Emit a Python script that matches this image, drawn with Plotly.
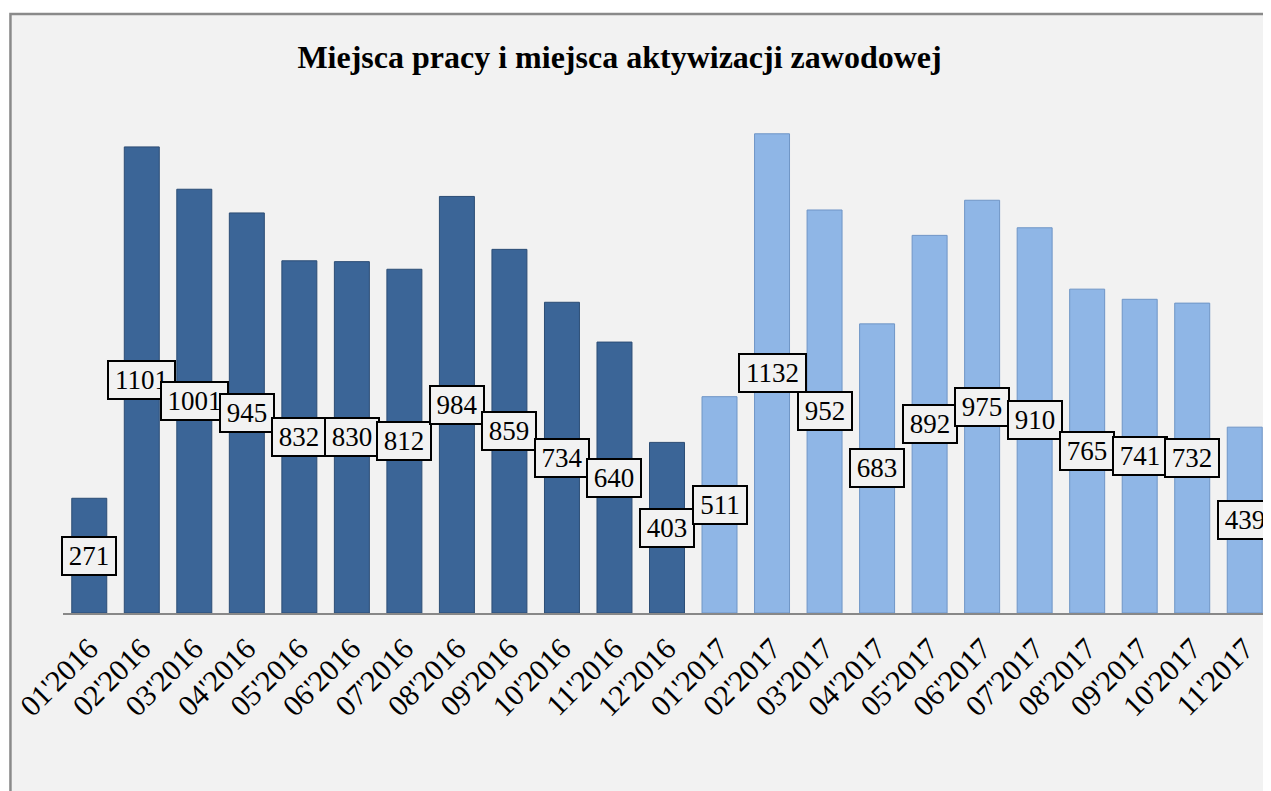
import plotly.graph_objects as go

categories = ["01'2016", "02'2016", "03'2016", "04'2016", "05'2016", "06'2016",
              "07'2016", "08'2016", "09'2016", "10'2016", "11'2016", "12'2016",
              "01'2017", "02'2017", "03'2017", "04'2017", "05'2017", "06'2017",
              "07'2017", "08'2017", "09'2017", "10'2017", "11'2017"]
values = [271, 1101, 1001, 945, 832, 830, 812, 984, 859, 734, 640, 403,
          511, 1132, 952, 683, 892, 975, 910, 765, 741, 732, 439]
title_text = "Miejsca pracy i miejsca aktywizacji zawodowej"

dark = "#3b6597"
light = "#8fb6e6"
colors = [dark if c.endswith("2016") else light for c in categories]
lines = ["#2c4d75" if c.endswith("2016") else "#6f95c6" for c in categories]

serif = "Liberation Serif, Times New Roman, serif"

fig = go.Figure()
fig.add_trace(go.Bar(
    x=categories, y=values,
    marker=dict(color=colors, line=dict(color=lines, width=1)),
    hoverinfo="x+y",
))

for c, v in zip(categories, values):
    fig.add_annotation(
        x=c, y=v / 2, xref="x", yref="y",
        text=str(v), showarrow=False,
        font=dict(family=serif, size=27, color="black"),
        width=46 if v < 1000 else 59,
        bgcolor="#f2f2f2", bordercolor="black", borderwidth=2, borderpad=3,
    )

# chart frame
fig.add_shape(type="rect", xref="paper", yref="paper",
              x0=-0.0435, x1=1.05, y0=-0.45, y1=1.179,
              line=dict(color="#8a8a8a", width=2.5), fillcolor="#f2f2f2",
              layer="below")

fig.update_layout(
    width=1263, height=783,
    margin=dict(l=55, r=0, t=97, b=178),
    paper_bgcolor="white", plot_bgcolor="rgba(0,0,0,0)",
    bargap=0.334,
    showlegend=False,
    title=dict(text="<b>" + title_text + "</b>", x=0.4842, xref="container",
               y=0.9374, yref="container", xanchor="center", yanchor="middle",
               font=dict(family=serif, size=32, color="black")),
    xaxis=dict(range=[-0.5, 22.5], tickangle=-45, showline=True,
               linecolor="#888888", linewidth=2, ticks="",
               ticklabelstandoff=4,
               tickfont=dict(family=serif, size=30, color="black"),
               showgrid=False, zeroline=False),
    yaxis=dict(range=[0, 1200], visible=False, showgrid=False, zeroline=False),
)

fig.write_html("out.html")
